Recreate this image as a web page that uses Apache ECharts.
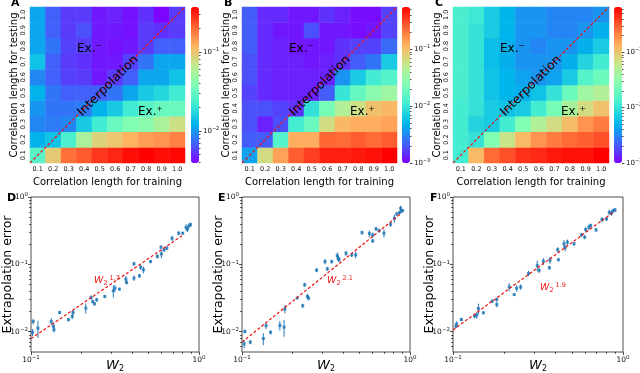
<!DOCTYPE html>
<html>
<head>
<meta charset="utf-8">
<script src="https://cdn.jsdelivr.net/npm/echarts@6.0.0/dist/echarts.min.js"></script>
<style>
  html, body { margin: 0; padding: 0; background: #fff; }
  #chart { width: 640px; height: 373px; }
</style>
</head>
<body>
<div id="chart"></div>
<script>
var lengths = ['0.1', '0.2', '0.3', '0.4', '0.5', '0.6', '0.7', '0.8', '0.9', '1.0'];

// test error, one row per testing length (0.1 at the bottom -> 1.0 at the top),
// one column per training length 0.1 -> 1.0
var errA = [
  [0.027, 0.095, 0.19, 0.22, 0.27, 0.30, 0.34, 0.37, 0.34, 0.36],
  [0.012, 0.014, 0.024, 0.055, 0.087, 0.10, 0.12, 0.14, 0.15, 0.17],
  [0.0089, 0.0082, 0.0089, 0.015, 0.022, 0.031, 0.038, 0.042, 0.055, 0.076],
  [0.0098, 0.0078, 0.0078, 0.0082, 0.012, 0.015, 0.022, 0.027, 0.031, 0.031],
  [0.012, 0.0078, 0.0068, 0.0068, 0.0068, 0.0078, 0.011, 0.015, 0.017, 0.022],
  [0.0089, 0.0068, 0.0057, 0.0055, 0.0045, 0.0055, 0.0068, 0.011, 0.011, 0.014],
  [0.014, 0.0068, 0.0055, 0.0052, 0.0045, 0.0045, 0.0057, 0.0078, 0.011, 0.011],
  [0.011, 0.0078, 0.0057, 0.0055, 0.0045, 0.0043, 0.0045, 0.0055, 0.0068, 0.0068],
  [0.011, 0.0068, 0.0055, 0.0062, 0.0045, 0.0045, 0.0043, 0.0055, 0.0052, 0.0055],
  [0.011, 0.0068, 0.0055, 0.0055, 0.0045, 0.0047, 0.0043, 0.0052, 0.0040, 0.0055]
];
var errB = [
  [0.0040, 0.064, 0.137, 0.258, 0.33, 0.43, 0.43, 0.45, 0.48, 0.55],
  [0.0021, 0.0021, 0.014, 0.12, 0.12, 0.24, 0.23, 0.26, 0.23, 0.26],
  [0.0019, 0.0013, 0.0019, 0.011, 0.018, 0.064, 0.107, 0.12, 0.12, 0.137],
  [0.0019, 0.0019, 0.0017, 0.0015, 0.0091, 0.021, 0.044, 0.060, 0.094, 0.107],
  [0.0017, 0.0014, 0.0013, 0.0013, 0.0013, 0.0021, 0.0097, 0.017, 0.027, 0.034],
  [0.0019, 0.0014, 0.0013, 0.0013, 0.0013, 0.0013, 0.0035, 0.0066, 0.011, 0.014],
  [0.0019, 0.0014, 0.0013, 0.0013, 0.0012, 0.0013, 0.0015, 0.0021, 0.0026, 0.0066],
  [0.0021, 0.0014, 0.0013, 0.0012, 0.0012, 0.0012, 0.0015, 0.0017, 0.0017, 0.0024],
  [0.0021, 0.0014, 0.0012, 0.0012, 0.0019, 0.0012, 0.0012, 0.0011, 0.0012, 0.0017],
  [0.0021, 0.0014, 0.0014, 0.0012, 0.0012, 0.0015, 0.0013, 0.0011, 0.0011, 0.0017]
];
var errC = [
  [0.012, 0.12, 0.27, 0.34, 0.44, 0.47, 0.54, 0.58, 0.58, 0.66],
  [0.012, 0.010, 0.026, 0.064, 0.12, 0.18, 0.23, 0.27, 0.30, 0.34],
  [0.012, 0.008, 0.007, 0.012, 0.026, 0.049, 0.073, 0.114, 0.18, 0.23],
  [0.012, 0.010, 0.007, 0.0062, 0.007, 0.012, 0.023, 0.043, 0.073, 0.107],
  [0.013, 0.010, 0.0062, 0.0051, 0.0048, 0.0062, 0.010, 0.020, 0.038, 0.049],
  [0.013, 0.010, 0.0062, 0.0051, 0.0042, 0.0037, 0.0042, 0.007, 0.015, 0.020],
  [0.013, 0.010, 0.0058, 0.0048, 0.0037, 0.0037, 0.0037, 0.0048, 0.008, 0.012],
  [0.013, 0.010, 0.0058, 0.0048, 0.0037, 0.0032, 0.0037, 0.0037, 0.0048, 0.007],
  [0.013, 0.010, 0.007, 0.0051, 0.0037, 0.0037, 0.0032, 0.0032, 0.0037, 0.0048],
  [0.013, 0.011, 0.007, 0.0051, 0.0037, 0.0037, 0.0032, 0.0032, 0.0032, 0.0037]
];

// colour bar limits (log norm)
var cbarA = [0.0039, 0.372];
var cbarB = [0.001, 0.55];
var cbarC = [0.001, 0.66];

// interpolation diagonal: training length == testing length, corner to corner
var diagEnds = [0.05, 1.05];

// W2 distance, extrapolation error and its std
var w2D = [0.102, 0.103, 0.110, 0.132, 0.136, 0.137, 0.148, 0.167, 0.176, 0.178, 0.212, 0.228, 0.233, 0.239, 0.246, 0.275, 0.309, 0.316, 0.336, 0.367, 0.371, 0.41, 0.41, 0.442, 0.45, 0.467, 0.515, 0.565, 0.594, 0.597, 0.619, 0.643, 0.691, 0.757, 0.80, 0.837, 0.853, 0.871, 0.891];
var errD = [0.0098, 0.0142, 0.0113, 0.0142, 0.0120, 0.0107, 0.0193, 0.0151, 0.0169, 0.0193, 0.0224, 0.0323, 0.0281, 0.0260, 0.0298, 0.0334, 0.0405, 0.0443, 0.0429, 0.0603, 0.0538, 0.102, 0.0624, 0.0676, 0.0908, 0.083, 0.110, 0.131, 0.180, 0.143, 0.164, 0.174, 0.244, 0.29, 0.29, 0.355, 0.332, 0.372, 0.389];
var stdD = [0.0012, 0.0014, 0.0032, 0.0017, 0.0011, 0.0010, 0.0007, 0.0009, 0.0015, 0.0017, 0.0038, 0.0022, 0.0019, 0.0015, 0.0020, 0.0015, 0.0083, 0.0050, 0.0019, 0.0069, 0.0037, 0.0070, 0.0057, 0.0046, 0.0083, 0.0094, 0.006, 0.009, 0.012, 0.020, 0.011, 0.012, 0.022, 0.020, 0.013, 0.040, 0.030, 0.034, 0.027];

var w2E = [0.103, 0.104, 0.112, 0.134, 0.139, 0.148, 0.168, 0.178, 0.180, 0.213, 0.230, 0.236, 0.245, 0.249, 0.278, 0.312, 0.322, 0.342, 0.369, 0.374, 0.378, 0.416, 0.450, 0.475, 0.518, 0.573, 0.600, 0.600, 0.628, 0.655, 0.700, 0.767, 0.807, 0.834, 0.865, 0.879, 0.891, 0.904];
var errE = [0.0066, 0.0101, 0.0070, 0.0079, 0.0123, 0.0098, 0.0124, 0.0117, 0.0217, 0.0316, 0.0243, 0.0497, 0.0334, 0.0315, 0.082, 0.110, 0.0857, 0.110, 0.135, 0.123, 0.117, 0.146, 0.138, 0.138, 0.296, 0.286, 0.223, 0.273, 0.336, 0.317, 0.29, 0.394, 0.483, 0.56, 0.586, 0.68, 0.621, 0.628];
var stdE = [0.0009, 0.0007, 0.0005, 0.0016, 0.0014, 0.0007, 0.0020, 0.0033, 0.0030, 0.0010, 0.0017, 0.0034, 0.0030, 0.0022, 0.0056, 0.010, 0.0058, 0.0075, 0.0154, 0.0112, 0.008, 0.013, 0.0095, 0.0157, 0.020, 0.033, 0.015, 0.025, 0.023, 0.022, 0.040, 0.036, 0.066, 0.038, 0.040, 0.062, 0.042, 0.028];

var w2F = [0.104, 0.105, 0.112, 0.134, 0.138, 0.141, 0.151, 0.170, 0.181, 0.181, 0.214, 0.229, 0.237, 0.250, 0.278, 0.313, 0.321, 0.340, 0.369, 0.372, 0.413, 0.417, 0.450, 0.456, 0.471, 0.515, 0.569, 0.595, 0.603, 0.630, 0.645, 0.694, 0.752, 0.800, 0.830, 0.857, 0.877, 0.898];
var errF = [0.0121, 0.0130, 0.0152, 0.0171, 0.0176, 0.0221, 0.0191, 0.0284, 0.0300, 0.0253, 0.0462, 0.0356, 0.0442, 0.0462, 0.0736, 0.0966, 0.0815, 0.111, 0.089, 0.115, 0.165, 0.117, 0.202, 0.176, 0.214, 0.202, 0.274, 0.253, 0.329, 0.356, 0.377, 0.325, 0.462, 0.473, 0.593, 0.581, 0.628, 0.643];
var stdF = [0.0008, 0.0012, 0.0010, 0.0012, 0.0020, 0.0040, 0.0009, 0.0016, 0.0020, 0.0023, 0.0063, 0.0016, 0.0050, 0.0042, 0.0067, 0.0175, 0.0074, 0.0126, 0.0060, 0.0130, 0.015, 0.0053, 0.0275, 0.020, 0.0194, 0.0137, 0.0186, 0.0172, 0.030, 0.032, 0.0257, 0.022, 0.042, 0.032, 0.054, 0.053, 0.043, 0.044];

// fitted power laws: end points and exponent
var fitDx = [0.1, 0.79], fitDy = [0.0079, 0.265], expD = '1.7';
var fitEx = [0.1, 0.87], fitEy = [0.007, 0.55], expE = '2.1';
var fitFx = [0.1, 0.88], fitFy = [0.0106, 0.6], expF = '1.9';

// log axes limits and decade ticks
var w2Range = [0.1, 1];
var errRange = [0.005, 1];
var decadesX = [-1, 0];
var decadesY = [-2, -1, 0];

var font = 'DejaVu Sans';
var ink = '#000';
// matplotlib "rainbow"
var rainbow = ['#8000ff', '#4062fa', '#00b5eb', '#40ebd4', '#80ffb4', '#c0eb8e', '#ffb462', '#ff6232', '#ff0000'];

function lg(v) { return Math.log10(v); }
// "10" with a raised exponent, as rich text
function decadeLabel(v) {
  return '{b|10}{e|' + String(Math.round(v)).replace('-', '\u2212') + '}';
}
function decadeRich(base, exp) {
  return {
    b: {fontFamily: font, fontSize: base, color: '#111', lineHeight: base + 3},
    e: {fontFamily: font, fontSize: exp, color: '#111', lineHeight: exp, verticalAlign: 'top'}
  };
}
function minorTicks(lo, hi) {
  var out = [];
  for (var n = Math.floor(lo); n < Math.ceil(hi); n++) {
    for (var k = 2; k <= 9; k++) {
      var t = n + lg(k);
      if (t > lo + 0.005 && t < hi - 0.005) out.push(t);
    }
  }
  return out;
}

var heatPanels = [
  {err: errA, cbar: cbarA, box: {left: 30, top: 7, width: 155, height: 156}, bar: 191, letter: 'A', letterX: 11},
  {err: errB, cbar: cbarB, box: {left: 242, top: 7, width: 155, height: 156}, bar: 402, letter: 'B', letterX: 224},
  {err: errC, cbar: cbarC, box: {left: 453, top: 7, width: 156, height: 156}, bar: 614, letter: 'C', letterX: 435}
];
var scatPanels = [
  {w2: w2D, err: errD, std: stdD, fx: fitDx, fy: fitDy, exp: expD, box: {left: 31, top: 197, width: 168, height: 155}, tag: [94, 281], letter: 'D', letterX: 7},
  {w2: w2E, err: errE, std: stdE, fx: fitEx, fy: fitEy, exp: expE, box: {left: 242, top: 197, width: 168, height: 155}, tag: [327, 281], letter: 'E', letterX: 218},
  {w2: w2F, err: errF, std: stdF, fx: fitFx, fy: fitFy, exp: expF, box: {left: 453, top: 197, width: 170, height: 155}, tag: [540, 288], letter: 'F', letterX: 430}
];

var grid = [], xAxis = [], yAxis = [], series = [], visualMap = [], graphic = [];
function addGrid(box) { grid.push(Object.assign({outerBoundsMode: 'none', containLabel: false}, box)); return grid.length - 1; }
function addX(o) { xAxis.push(o); return xAxis.length - 1; }
function addY(o) { yAxis.push(o); return yAxis.length - 1; }

var tickLine = {color: ink, width: 0.7};
var noLine = {show: false, onZero: false};

heatPanels.forEach(function (p) {
  var g = addGrid(p.box);
  var xi = addX({
    type: 'category', gridIndex: g, data: lengths,
    name: 'Correlation length for training', nameLocation: 'middle', nameGap: 14,
    nameTextStyle: {fontFamily: font, fontSize: 10, color: ink},
    axisLine: noLine, splitLine: {show: false},
    axisTick: {alignWithLabel: true, length: 2, lineStyle: tickLine},
    axisLabel: {interval: 0, fontSize: 6.5, margin: 3, fontFamily: font, color: '#111'}
  });
  var yi = addY({
    type: 'category', gridIndex: g, data: lengths,
    name: 'Correlation length for testing', nameLocation: 'middle', nameGap: 10,
    nameTextStyle: {fontFamily: font, fontSize: 10, color: ink},
    axisLine: noLine, splitLine: {show: false},
    axisTick: {alignWithLabel: true, length: 2, lineStyle: tickLine},
    axisLabel: {interval: 0, rotate: 90, fontSize: 6.5, margin: 3, fontFamily: font, color: '#111'}
  });
  // hidden value axes carrying the diagonal
  var dx = addX({type: 'value', gridIndex: g, min: diagEnds[0], max: diagEnds[1], show: false, axisLine: noLine});
  var dy = addY({type: 'value', gridIndex: g, min: diagEnds[0], max: diagEnds[1], show: false, axisLine: noLine});

  var cells = [];
  p.err.forEach(function (row, j) {
    row.forEach(function (v, i) { cells.push([i, j, lg(v)]); });
  });
  series.push({type: 'heatmap', xAxisIndex: xi, yAxisIndex: yi, data: cells, silent: true, emphasis: {disabled: true}});
  visualMap.push({
    type: 'continuous', seriesIndex: series.length - 1, dimension: 2,
    min: lg(p.cbar[0]), max: lg(p.cbar[1]), inRange: {color: rainbow},
    calculable: false, hoverLink: false, padding: 0,
    left: p.bar, top: p.box.top, itemWidth: 8, itemHeight: p.box.height
  });
  series.push({
    type: 'line', xAxisIndex: dx, yAxisIndex: dy, silent: true, symbol: 'none', z: 3,
    data: [[diagEnds[0], diagEnds[0]], [diagEnds[1], diagEnds[1]]],
    lineStyle: {color: '#ee1111', width: 1.2, type: [3, 2]}
  });

  // colour bar ticks
  var lo = lg(p.cbar[0]), hi = lg(p.cbar[1]);
  var majors = [-3, -2, -1, 0].filter(function (v) { return v >= lo - 1e-9 && v <= hi; });
  var cg = addGrid({left: p.bar, top: p.box.top, width: 8, height: p.box.height});
  addX({type: 'value', gridIndex: cg, min: 0, max: 1, show: false, axisLine: noLine});
  addY({
    type: 'value', gridIndex: cg, position: 'right', min: lo, max: hi,
    axisLine: noLine, splitLine: {show: false},
    axisTick: {customValues: majors, length: 2.5, lineStyle: tickLine},
    axisLabel: {customValues: majors, formatter: decadeLabel, margin: 4, rich: decadeRich(7, 5)}
  });
  addY({
    type: 'value', gridIndex: cg, position: 'right', min: lo, max: hi,
    axisLine: noLine, splitLine: {show: false}, axisLabel: {show: false},
    axisTick: {customValues: minorTicks(lo, hi), length: 1.5, lineStyle: tickLine}
  });

  var L = p.box.left;
  graphic.push({type: 'text', x: L + 47, y: 49, z: 100, style: {text: 'Ex.\u207b', font: '12px "DejaVu Sans"', fill: ink, verticalAlign: 'middle'}});
  graphic.push({type: 'text', x: L + 108, y: 112, z: 100, style: {text: 'Ex.\u207a', font: '12px "DejaVu Sans"', fill: ink, verticalAlign: 'middle'}});
  graphic.push({type: 'text', x: L + 78, y: 86, rotation: Math.PI / 4, z: 100, style: {text: 'Interpolation', font: '12.5px "DejaVu Sans"', fill: ink, align: 'center', verticalAlign: 'middle'}});
  graphic.push({type: 'text', x: p.letterX, y: 3, z: 100, style: {text: p.letter, font: 'bold 11px "DejaVu Sans"', fill: ink, verticalAlign: 'middle'}});
});

scatPanels.forEach(function (p) {
  var g = addGrid(Object.assign({show: true, borderColor: '#222', borderWidth: 0.8, backgroundColor: 'transparent'}, p.box));
  var xlo = lg(w2Range[0]), xhi = lg(w2Range[1]);
  var ylo = lg(errRange[0]), yhi = lg(errRange[1]);
  var xi = addX({
    type: 'value', gridIndex: g, min: xlo, max: xhi,
    name: '{w|W}{s|2}', nameLocation: 'middle', nameGap: 6, nameMoveOverlap: false,
    nameTextStyle: {verticalAlign: 'top', rich: {
      w: {fontFamily: font, fontStyle: 'italic', fontSize: 13, color: ink, lineHeight: 15},
      s: {fontFamily: font, fontSize: 8, color: ink, verticalAlign: 'bottom', lineHeight: 8}
    }},
    axisLine: noLine, splitLine: {show: false},
    axisTick: {customValues: decadesX, length: 3, lineStyle: tickLine},
    axisLabel: {customValues: decadesX, formatter: decadeLabel, margin: 3, rich: decadeRich(7.5, 5.5)}
  });
  addX({
    type: 'value', gridIndex: g, position: 'bottom', min: xlo, max: xhi,
    axisLine: noLine, splitLine: {show: false}, axisLabel: {show: false},
    axisTick: {customValues: minorTicks(xlo, xhi), length: 1.8, lineStyle: tickLine}
  });
  var yi = addY({
    type: 'value', gridIndex: g, min: ylo, max: yhi,
    name: 'Extrapolation error', nameLocation: 'middle', nameGap: 17, nameMoveOverlap: false,
    nameTextStyle: {fontFamily: font, fontSize: 12.5, color: ink},
    axisLine: noLine, splitLine: {show: false},
    axisTick: {customValues: decadesY, length: 3, lineStyle: tickLine},
    axisLabel: {customValues: decadesY, formatter: decadeLabel, margin: 3, rich: decadeRich(7.5, 5.5)}
  });
  addY({
    type: 'value', gridIndex: g, position: 'left', min: ylo, max: yhi,
    axisLine: noLine, splitLine: {show: false}, axisLabel: {show: false},
    axisTick: {customValues: minorTicks(ylo, yhi), length: 1.8, lineStyle: tickLine}
  });

  // error bars
  series.push({
    type: 'custom', xAxisIndex: xi, yAxisIndex: yi, silent: true, z: 2,
    data: p.w2.map(function (w, i) { return [lg(w), lg(p.err[i] - p.std[i]), lg(p.err[i] + p.std[i])]; }),
    encode: {x: 0, y: [1, 2]},
    renderItem: function (params, api) {
      var a = api.coord([api.value(0), api.value(1)]);
      var b = api.coord([api.value(0), api.value(2)]);
      return {type: 'line', shape: {x1: a[0], y1: a[1], x2: b[0], y2: b[1]}, style: {stroke: '#2a7ab8', lineWidth: 1}};
    }
  });
  series.push({
    type: 'scatter', xAxisIndex: xi, yAxisIndex: yi, silent: true, z: 3,
    symbol: 'rect', symbolSize: 3,
    itemStyle: {color: '#1f77b4'},
    data: p.w2.map(function (w, i) { return [lg(w), lg(p.err[i])]; })
  });
  series.push({
    type: 'line', xAxisIndex: xi, yAxisIndex: yi, silent: true, symbol: 'none', z: 4,
    data: [[lg(p.fx[0]), lg(p.fy[0])], [lg(p.fx[1]), lg(p.fy[1])]],
    lineStyle: {color: '#ee1111', width: 1.2, type: [3, 2]}
  });

  graphic.push({
    type: 'text', x: p.tag[0], y: p.tag[1], z: 100,
    style: {
      text: '{w|W}{s|2}{p|' + p.exp + '}', verticalAlign: 'middle',
      rich: {
        w: {fontFamily: font, fontStyle: 'italic', fontSize: 9.5, fill: '#ee1111', lineHeight: 12},
        s: {fontFamily: font, fontSize: 6.5, fill: '#ee1111', verticalAlign: 'bottom', lineHeight: 6},
        p: {fontFamily: font, fontSize: 6.5, fill: '#ee1111', verticalAlign: 'top', lineHeight: 6, padding: [0, 0, 0, 2]}
      }
    }
  });
  graphic.push({type: 'text', x: p.letterX, y: 198, z: 100, style: {text: p.letter, font: 'bold 11px "DejaVu Sans"', fill: ink, verticalAlign: 'middle'}});
});

var chart = echarts.init(document.getElementById('chart'));
chart.setOption({
  animation: false,
  backgroundColor: '#fff',
  textStyle: {fontFamily: font},
  grid: grid,
  xAxis: xAxis,
  yAxis: yAxis,
  visualMap: visualMap,
  series: series,
  graphic: graphic
});
</script>
</body>
</html>
